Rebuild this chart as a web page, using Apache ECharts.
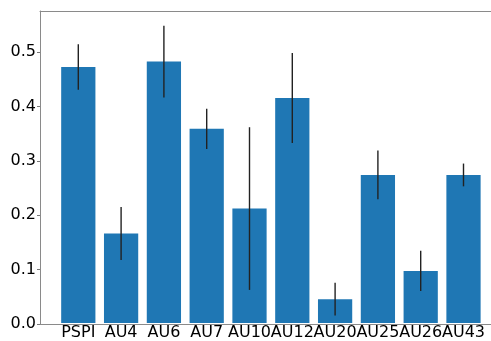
<!DOCTYPE html>
<html>
<head>
<meta charset="utf-8">
<script src="https://cdn.jsdelivr.net/npm/echarts@6/dist/echarts.min.js"></script>
<style>
  html, body { margin: 0; padding: 0; background: #fff; }
  #chart { width: 491px; height: 341px; }
</style>
</head>
<body>
<div id="chart"></div>
<script>
// Mean score per label and its standard error
const categories = ['PSPI', 'AU4', 'AU6', 'AU7', 'AU10', 'AU12', 'AU20', 'AU25', 'AU26', 'AU43'];
const means = [0.472, 0.165, 0.482, 0.358, 0.211, 0.415, 0.044, 0.273, 0.096, 0.273];
const errors = [0.042, 0.049, 0.066, 0.037, 0.150, 0.083, 0.030, 0.045, 0.037, 0.021];
const yTicks = [0.0, 0.1, 0.2, 0.3, 0.4, 0.5];

const Y_MAX = 0.5753;
const FONT = 'DejaVu Sans';
const SPINE = { show: true, lineStyle: { color: '#8a8a8a', width: 1 } };

const errorData = means.map((m, i) => [i, m - errors[i], m + errors[i]]);

const chart = echarts.init(document.getElementById('chart'), null, { renderer: 'canvas' });

chart.setOption({
  animation: false,
  backgroundColor: '#fff',
  grid: [
    // frame grid: carries the spines and the y-axis ticks (runs past the right edge)
    { left: 40, width: 462, top: 11, bottom: 17 },
    // plotting grid: one band per category
    { left: 56.9, width: 428, top: 11, bottom: 17 }
  ],
  xAxis: [
    { gridIndex: 0, type: 'value', min: 0, max: 1, position: 'bottom',
      axisLine: SPINE, axisTick: { show: false }, axisLabel: { show: false }, splitLine: { show: false } },
    { gridIndex: 0, type: 'value', min: 0, max: 1, position: 'top',
      axisLine: SPINE, axisTick: { show: false }, axisLabel: { show: false }, splitLine: { show: false } },
    { gridIndex: 1, type: 'category', data: categories,
      axisLine: { show: false }, axisTick: { show: false }, splitLine: { show: false },
      axisLabel: { interval: 0, margin: 2, color: '#000', fontSize: 16, fontFamily: FONT } }
  ],
  yAxis: [
    { gridIndex: 0, type: 'value', min: 0, max: Y_MAX,
      axisLine: SPINE,
      axisTick: { show: true, length: 3, customValues: yTicks, lineStyle: { color: '#777' } },
      splitLine: { show: false },
      axisLabel: {
        margin: 4, color: '#000', fontSize: 16, fontFamily: FONT,
        customValues: yTicks,
        formatter: v => v.toFixed(1)
      }
    },
    { gridIndex: 1, type: 'value', min: 0, max: Y_MAX, show: false }
  ],
  series: [
    {
      type: 'bar', xAxisIndex: 2, yAxisIndex: 1,
      data: means, barWidth: '80%',
      itemStyle: { color: '#1f77b4' }
    },
    {
      type: 'custom', xAxisIndex: 2, yAxisIndex: 1,
      data: errorData,
      z: 5,
      renderItem: (params, api) => {
        const lo = api.coord([api.value(0), api.value(1)]);
        const hi = api.coord([api.value(0), api.value(2)]);
        return {
          type: 'line',
          shape: { x1: lo[0], y1: lo[1], x2: hi[0], y2: hi[1] },
          style: { stroke: '#222', lineWidth: 1.4 }
        };
      }
    }
  ]
});
</script>
</body>
</html>
